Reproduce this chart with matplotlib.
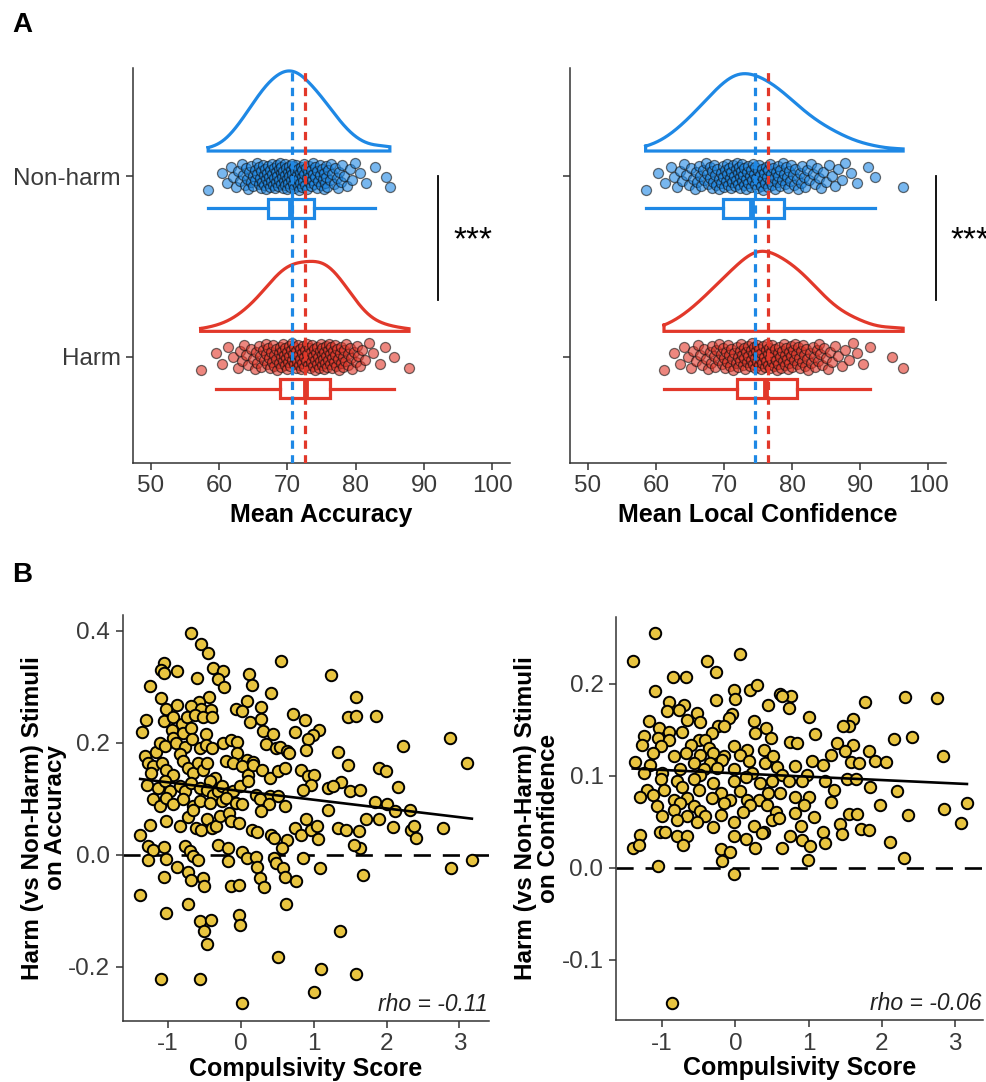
import numpy as np
import matplotlib
matplotlib.use('Agg')
import matplotlib.pyplot as plt

plt.rcParams['font.family'] = ['Liberation Sans', 'DejaVu Sans']
plt.rcParams['axes.unicode_minus'] = False

BLUE = '#1E88E5'
RED = '#E2382A'
GOLD = '#E8C440'
TXT = '#3a3a3a'

# ---- panel A data: per-participant means ----
nonharm_acc = [58.4, 60.4, 61.2, 61.8, 62.1, 62.5, 62.8, 63.0, 63.3, 63.5, 63.8, 63.9,
               64.1, 64.2, 64.4, 64.6, 64.7, 64.9, 65.0, 65.2, 65.3, 65.5, 65.6, 65.8, 65.9, 66.0,
               66.1, 66.2, 66.3, 66.4, 66.5, 66.6, 66.7, 66.8, 66.9, 67.0, 67.1, 67.2, 67.3, 67.4,
               67.5, 67.6, 67.7, 67.8, 67.9, 68.0,
               68.1, 68.2, 68.3, 68.4, 68.5, 68.5, 68.6, 68.7, 68.8, 68.9, 69.0, 69.1, 69.1, 69.2,
               69.3, 69.4, 69.5, 69.6, 69.7, 69.7, 69.8, 69.9, 70.0,
               70.1, 70.1, 70.2, 70.3, 70.4, 70.5, 70.5, 70.6, 70.7, 70.8, 70.9, 71.0, 71.0, 71.1,
               71.2, 71.3, 71.4, 71.5, 71.5, 71.6, 71.7, 71.8, 71.9, 72.0,
               72.1, 72.2, 72.2, 72.3, 72.4, 72.5, 72.6, 72.7, 72.8, 72.9, 73.0, 73.1, 73.2, 73.3,
               73.4, 73.5, 73.6, 73.7, 73.8, 73.9, 74.0,
               74.1, 74.3, 74.4, 74.5, 74.7, 74.8, 74.9, 75.0, 75.2, 75.3, 75.4, 75.5, 75.6, 75.7,
               75.8, 76.0, 76.2, 76.4, 76.6, 76.8, 77.0, 77.2, 77.4, 77.6, 77.8, 78.0,
               78.3, 78.7, 79.1, 79.5, 79.9, 80.6, 81.5, 82.8, 84.5, 85.0]

harm_acc = [57.3, 59.5, 60.4, 61.3, 62.0, 62.7, 63.1, 63.4, 63.7, 64.0, 64.3, 64.6, 64.9,
            65.2, 65.4, 65.6, 65.8, 66.0, 66.2, 66.4, 66.6, 66.8, 66.9,
            67.0, 67.2, 67.3, 67.4, 67.6, 67.7, 67.9, 68.0, 68.1, 68.3, 68.4, 68.5, 68.7, 68.8, 68.9,
            69.0, 69.1, 69.2, 69.3, 69.4, 69.5, 69.6, 69.7, 69.8, 69.9, 70.0, 70.1, 70.2, 70.3,
            70.4, 70.5, 70.6, 70.7, 70.8, 70.9,
            71.0, 71.1, 71.2, 71.3, 71.4, 71.5, 71.6, 71.7, 71.8, 71.9, 72.0, 72.1, 72.2, 72.3,
            72.4, 72.5, 72.6, 72.7, 72.8, 72.9, 73.0,
            73.1, 73.2, 73.3, 73.4, 73.5, 73.6, 73.7, 73.8, 73.9, 74.0, 74.1, 74.2, 74.3, 74.4,
            74.5, 74.6, 74.7, 74.8, 74.9, 75.0, 75.0,
            75.1, 75.2, 75.3, 75.4, 75.5, 75.6, 75.7, 75.8, 75.9, 76.0, 76.1, 76.2, 76.3, 76.4,
            76.5, 76.6, 76.7, 76.8, 76.9,
            77.0, 77.1, 77.3, 77.4, 77.5, 77.7, 77.8, 77.9, 78.1, 78.2, 78.3, 78.5, 78.6, 78.8, 78.9,
            79.1, 79.3, 79.5, 79.7, 80.0, 80.2, 80.4, 80.6, 80.9,
            81.4, 82.0, 82.6, 83.5, 84.3, 85.6, 87.8]

nonharm_conf = [58.5, 60.3, 61.4, 62.2, 62.7, 63.1, 63.5, 63.9,
                64.2, 64.5, 64.8, 65.1, 65.4, 65.7, 65.9,
                66.1, 66.3, 66.5, 66.7, 66.9, 67.1, 67.3, 67.5, 67.7, 67.9,
                68.0, 68.2, 68.3, 68.4, 68.6, 68.7, 68.9, 69.0, 69.2, 69.3, 69.5, 69.6, 69.8, 69.9,
                70.0, 70.1, 70.3, 70.4, 70.5, 70.6, 70.8, 70.9, 71.0, 71.1, 71.2, 71.4, 71.5, 71.6,
                71.7, 71.8, 71.9,
                72.0, 72.1, 72.2, 72.3, 72.4, 72.5, 72.6, 72.7, 72.8, 72.9, 73.0, 73.2, 73.3, 73.4,
                73.5, 73.6, 73.8, 73.9,
                74.0, 74.1, 74.2, 74.4, 74.5, 74.6, 74.7, 74.8, 75.0, 75.1, 75.2, 75.3, 75.4, 75.6,
                75.7, 75.8, 75.9,
                76.0, 76.1, 76.3, 76.4, 76.5, 76.7, 76.8, 76.9, 77.1, 77.2, 77.3, 77.5, 77.6, 77.8, 77.9,
                78.0, 78.2, 78.3, 78.5, 78.6, 78.8, 78.9, 79.1, 79.2, 79.4, 79.5, 79.7, 79.9,
                80.1, 80.3, 80.5, 80.7, 80.9, 81.1, 81.3, 81.5, 81.7, 81.9,
                82.2, 82.5, 82.8, 83.1, 83.4, 83.6, 83.9, 84.2, 84.6, 85.0, 85.4, 85.8,
                86.3, 86.8, 87.3, 87.8, 88.6, 89.5, 91.2, 92.2, 96.3]

harm_conf = [61.2, 62.6, 63.5, 64.2, 64.7, 65.1, 65.5, 65.9,
             66.2, 66.5, 66.8, 67.1, 67.4, 67.7, 67.9,
             68.1, 68.3, 68.5, 68.7, 68.9, 69.1, 69.3, 69.5, 69.7, 69.9,
             70.0, 70.2, 70.3, 70.5, 70.6, 70.8, 70.9, 71.1, 71.2, 71.4, 71.5, 71.7, 71.9,
             72.0, 72.1, 72.3, 72.4, 72.5, 72.6, 72.8, 72.9, 73.0, 73.1, 73.3, 73.4, 73.5, 73.6,
             73.8, 73.9,
             74.0, 74.1, 74.2, 74.3, 74.4, 74.5, 74.6, 74.7, 74.8, 74.9, 75.0, 75.1, 75.2, 75.3,
             75.4, 75.5, 75.6, 75.7, 75.9,
             76.0, 76.1, 76.2, 76.3, 76.4, 76.5, 76.6, 76.7, 76.8, 76.9, 77.0, 77.1, 77.2, 77.4,
             77.5, 77.6, 77.8, 77.9,
             78.0, 78.1, 78.3, 78.4, 78.5, 78.6, 78.8, 78.9, 79.0, 79.1, 79.3, 79.4, 79.5, 79.6,
             79.8, 79.9,
             80.0, 80.2, 80.3, 80.4, 80.6, 80.7, 80.9, 81.0, 81.1, 81.3, 81.4, 81.6, 81.7, 81.9,
             82.0, 82.2, 82.4, 82.6, 82.8, 83.0, 83.2, 83.4, 83.6, 83.8, 83.9,
             84.1, 84.4, 84.7, 85.0, 85.3, 85.6, 85.9, 86.3, 86.8, 87.3, 87.8,
             88.3, 88.9, 89.6, 90.4, 91.5, 94.6, 96.3]

# ---- panel B data: (compulsivity score, harm - non-harm effect) ----
acc_points = [
    (-0.68, 0.395), (-0.54, 0.376), (-0.45, 0.36), (-1.06, 0.343), (-1.10, 0.33), (-1.06, 0.325),
    (-0.87, 0.328), (-0.60, 0.315), (-0.38, 0.333), (-0.24, 0.328), (-0.31, 0.314), (-0.23, 0.30),
    (0.11, 0.322), (0.16, 0.303), (0.55, 0.346), (1.24, 0.321),
    (-1.24, 0.301), (-1.10, 0.28), (-0.43, 0.282), (-0.57, 0.272), (-0.88, 0.267), (-1.02, 0.26),
    (-0.68, 0.266), (0.08, 0.275), (0.42, 0.288), (0.28, 0.263), (-0.06, 0.26), (0.02, 0.257),
    (1.58, 0.282), (-0.55, 0.26), (-0.41, 0.258),
    (-1.30, 0.24), (-1.06, 0.238), (-0.93, 0.245), (-0.81, 0.233), (-0.74, 0.245), (-0.63, 0.25),
    (-0.52, 0.245), (-0.39, 0.245), (0.12, 0.237), (0.28, 0.243), (0.72, 0.252), (0.88, 0.24),
    (1.47, 0.245), (1.58, 0.247), (1.85, 0.248),
    (-1.36, 0.219), (-0.94, 0.223), (-0.93, 0.209), (-0.79, 0.218), (-0.68, 0.227), (-0.48, 0.215),
    (0.31, 0.22), (0.44, 0.215), (0.74, 0.219), (1.07, 0.222), (0.99, 0.213), (0.92, 0.206),
    (2.87, 0.209),
    (-1.32, 0.177), (-1.16, 0.183), (-1.11, 0.199), (-1.04, 0.194), (-0.89, 0.199), (-0.77, 0.193),
    (-0.67, 0.206), (-0.56, 0.191), (-0.48, 0.196), (-0.40, 0.19), (-0.25, 0.20), (-0.14, 0.204),
    (-0.05, 0.202), (-0.05, 0.181), (0.08, 0.169), (0.17, 0.165), (0.35, 0.197), (0.48, 0.191),
    (0.54, 0.193), (0.63, 0.185), (0.66, 0.181), (0.90, 0.187), (1.33, 0.183), (2.22, 0.194),
    (3.11, 0.164),
    (-1.27, 0.164), (-1.20, 0.158), (-1.23, 0.146), (-1.08, 0.164), (-1.02, 0.151), (-0.93, 0.143),
    (-0.84, 0.179), (-0.79, 0.167), (-0.72, 0.155), (-0.66, 0.146), (-0.58, 0.164), (-0.52, 0.152),
    (-0.47, 0.164), (-0.35, 0.137), (-0.42, 0.131), (-0.20, 0.167), (-0.11, 0.164), (0.01, 0.158),
    (0.10, 0.143), (0.17, 0.161), (0.29, 0.152), (0.40, 0.137), (0.51, 0.149), (0.60, 0.155),
    (0.83, 0.152), (0.92, 0.14), (1.01, 0.143), (1.47, 0.16), (1.90, 0.155), (1.99, 0.149),
    (1.38, 0.13), (0.96, 0.125), (0.85, 0.116),
    (-1.29, 0.125), (-1.13, 0.119), (-1.04, 0.131), (-0.97, 0.113), (-0.84, 0.122), (-0.77, 0.113),
    (-0.68, 0.128), (-0.56, 0.119), (-0.47, 0.116), (-0.38, 0.107), (-0.31, 0.113), (-0.26, 0.122),
    (-0.17, 0.11), (-0.11, 0.113), (-0.01, 0.122), (0.10, 0.131), (0.21, 0.107), (0.40, 0.104),
    (0.51, 0.104), (0.60, 0.087), (1.20, 0.119), (1.26, 0.122), (1.50, 0.113), (1.63, 0.116),
    (2.16, 0.121),
    (-1.20, 0.099), (-1.11, 0.087), (-1.02, 0.101), (-0.93, 0.09), (-0.79, 0.099), (-0.65, 0.087),
    (-0.56, 0.096), (-0.42, 0.093), (-0.26, 0.096), (-0.20, 0.101), (-0.06, 0.093), (0.01, 0.091),
    (0.26, 0.099), (0.39, 0.09), (1.20, 0.079), (1.84, 0.094), (2.00, 0.09), (2.11, 0.078),
    (2.32, 0.079),
    (-1.25, 0.054), (-1.02, 0.06), (-0.84, 0.051), (-0.72, 0.067), (-0.66, 0.079), (-0.61, 0.048),
    (-0.54, 0.045), (-0.47, 0.063), (-0.40, 0.048), (-0.34, 0.051), (-0.29, 0.07), (-0.16, 0.075),
    (-0.13, 0.06), (-0.02, 0.057), (0.15, 0.045), (0.22, 0.041), (0.28, 0.078), (0.42, 0.036),
    (0.45, 0.03), (0.63, 0.027), (0.74, 0.048), (0.83, 0.035), (0.90, 0.063), (0.97, 0.045),
    (1.04, 0.051), (1.06, 0.028), (1.33, 0.048), (1.45, 0.045), (1.62, 0.042), (1.72, 0.063),
    (1.90, 0.064), (2.09, 0.049), (2.33, 0.044), (2.38, 0.051), (2.41, 0.03), (2.77, 0.047),
    (-1.38, 0.036), (-1.27, 0.015), (-1.20, 0.009), (-1.06, 0.014), (-1.27, -0.009), (-1.02, -0.008),
    (-1.06, -0.04), (-0.88, -0.021), (-0.77, 0.015), (-0.70, 0.006), (-0.65, -0.003), (-0.58, -0.01),
    (-0.72, -0.03), (-0.68, -0.045), (-0.52, -0.042), (-0.51, -0.056), (-0.31, 0.018), (-0.17, 0.012),
    (-0.18, -0.011), (0.01, 0.005), (0.08, -0.006), (0.21, -0.004), (0.22, -0.021), (0.26, -0.042),
    (0.32, -0.057), (-0.14, -0.055), (-0.03, -0.054), (0.45, -0.006), (0.48, -0.015), (0.56, 0.012),
    (0.58, -0.024), (0.60, -0.039), (0.76, -0.047), (0.85, -0.006), (1.08, -0.024), (1.68, -0.037),
    (1.63, 0.012), (1.56, 0.018), (2.89, -0.023), (3.17, -0.01),
    (-1.38, -0.072), (-0.72, -0.088), (0.62, -0.087), (-1.03, -0.104), (-0.02, -0.107),
    (-0.01, -0.125), (-0.56, -0.119), (-0.41, -0.116), (-0.51, -0.136), (-0.46, -0.159),
    (1.36, -0.136), (0.51, -0.182), (1.10, -0.203), (-1.10, -0.221), (-0.56, -0.222),
    (1.58, -0.212), (1.01, -0.245), (0.01, -0.264),
]

conf_points = [
    (-1.10, 0.255), (-1.39, 0.225), (0.07, 0.233), (-0.38, 0.225), (-0.27, 0.213), (-0.85, 0.208),
    (-0.67, 0.207), (-1.10, 0.192), (-0.02, 0.193), (0.20, 0.193), (0.29, 0.199), (-0.27, 0.182),
    (-0.01, 0.184), (0.61, 0.189), (0.76, 0.187), (0.64, 0.187), (2.32, 0.186), (2.75, 0.185),
    (1.77, 0.18), (-0.91, 0.18), (-0.70, 0.177), (0.45, 0.177), (0.73, 0.174), (-0.77, 0.172),
    (-0.93, 0.17), (-0.52, 0.168), (-0.05, 0.167), (-0.09, 0.163), (1.00, 0.164), (1.61, 0.162),
    (1.55, 0.154), (1.47, 0.154), (-1.18, 0.16), (-0.66, 0.161), (-0.48, 0.159), (0.26, 0.16),
    (-0.24, 0.154), (-0.15, 0.154), (-1.04, 0.152), (0.42, 0.152), (-1.25, 0.143), (-0.91, 0.148),
    (-0.73, 0.148), (-0.32, 0.147), (0.27, 0.147), (1.09, 0.145), (0.48, 0.141), (2.16, 0.14),
    (2.41, 0.142), (-1.06, 0.141), (-0.91, 0.139), (-0.50, 0.139), (-0.41, 0.139), (0.75, 0.137),
    (0.84, 0.136), (1.39, 0.136), (1.61, 0.133), (-1.28, 0.133), (-1.02, 0.132), (-0.61, 0.134),
    (-0.36, 0.13), (-0.02, 0.132), (0.16, 0.128), (0.39, 0.128), (-1.12, 0.125), (-0.68, 0.125),
    (-0.48, 0.123), (-0.30, 0.125), (-0.16, 0.121), (0.07, 0.123), (1.82, 0.127), (1.50, 0.127),
    (1.30, 0.123), (2.84, 0.121), (-1.37, 0.115), (-0.84, 0.121), (-0.57, 0.114), (-0.34, 0.114),
    (-0.18, 0.117), (0.18, 0.116), (0.41, 0.114), (0.52, 0.121), (1.05, 0.116), (1.58, 0.115),
    (1.69, 0.114), (1.90, 0.116), (2.05, 0.115), (1.19, 0.112), (0.82, 0.111), (-1.16, 0.112),
    (-1.25, 0.103), (-1.00, 0.103), (-0.75, 0.107), (-0.43, 0.107), (-0.25, 0.108), (-0.02, 0.107),
    (0.23, 0.103), (0.57, 0.110), (0.64, 0.101), (0.98, 0.101), (-0.48, 0.101), (-1.02, 0.096),
    (-0.80, 0.094), (-0.57, 0.096), (-0.30, 0.092), (-0.02, 0.094), (0.14, 0.099), (0.34, 0.092),
    (0.50, 0.094), (0.73, 0.094), (0.91, 0.094), (1.23, 0.094), (1.52, 0.096), (1.65, 0.096),
    (1.84, 0.088), (-1.20, 0.085), (-0.98, 0.085), (-0.73, 0.088), (-0.50, 0.085), (-0.20, 0.081),
    (0.07, 0.083), (0.45, 0.081), (0.61, 0.081), (0.82, 0.077), (1.34, 0.085), (2.21, 0.083),
    (-1.30, 0.077), (-1.12, 0.079), (-0.84, 0.074), (-0.66, 0.076), (-0.32, 0.076), (-0.07, 0.074),
    (0.16, 0.074), (0.32, 0.074), (1.00, 0.077), (-1.07, 0.067), (-0.75, 0.07), (-0.57, 0.067),
    (-0.16, 0.07), (0.20, 0.068), (0.43, 0.068), (0.93, 0.068), (1.30, 0.071), (1.98, 0.068),
    (3.16, 0.07), (-0.84, 0.063), (-0.48, 0.062), (0.11, 0.061), (0.55, 0.061), (0.82, 0.059),
    (1.55, 0.058), (1.66, 0.058), (2.35, 0.057), (2.85, 0.064), (-1.00, 0.056), (-0.66, 0.056),
    (-0.41, 0.056), (-0.20, 0.057), (-0.02, 0.05), (0.50, 0.052), (0.59, 0.054), (1.07, 0.055),
    (3.08, 0.049), (-0.80, 0.052), (-0.52, 0.05), (-0.30, 0.044), (0.25, 0.045), (0.39, 0.039),
    (0.89, 0.045), (1.43, 0.048), (1.46, 0.037), (1.71, 0.042), (1.82, 0.041), (-1.30, 0.036),
    (-1.03, 0.039), (-0.96, 0.039), (-0.80, 0.035), (-0.66, 0.035), (-0.02, 0.035), (0.15, 0.031),
    (0.36, 0.038), (0.75, 0.035), (0.91, 0.030), (1.19, 0.039), (1.23, 0.027), (2.11, 0.028),
    (-0.72, 0.025), (0.27, 0.022), (0.63, 0.022), (1.02, 0.024), (-1.40, 0.021), (-1.31, 0.025),
    (-0.20, 0.02), (-0.07, 0.017), (-0.18, 0.007), (0.99, 0.008), (2.30, 0.011), (-1.05, 0.002),
    (-0.02, -0.007), (-0.86, -0.147),
]


def kde(vals, grid):
    # gaussian kernel, R's nrd0 bandwidth
    vals = np.asarray(vals)
    n = len(vals)
    q75, q25 = np.percentile(vals, [75, 25])
    bw = 0.9 * min(vals.std(ddof=1), (q75 - q25) / 1.34) * n ** -0.2
    z = (grid[:, None] - vals[None, :]) / bw
    return np.exp(-0.5 * z ** 2).sum(axis=1) / (n * bw * np.sqrt(2 * np.pi))


def raincloud(ax, groups):
    curves = []
    for vals, pos, col in groups:
        grid = np.linspace(min(vals), max(vals), 300)
        curves.append((grid, kde(vals, grid)))
    dmax = max(d.max() for g, d in curves)

    for (vals, pos, col), (grid, d) in zip(groups, curves):
        vals = np.asarray(vals)
        base = pos + 0.14
        top = base + d / dmax * 0.444
        ax.plot(np.r_[grid, grid[::-1], grid[0]],
                np.r_[top, np.full(len(grid), base), top[0]],
                color=col, lw=2.3, solid_joinstyle='miter', zorder=2)
        jit = ((np.arange(len(vals)) * 0.618034) % 1 - 0.5) * 0.15
        ax.scatter(vals, pos + jit, s=52, facecolor=col, edgecolor='#111111',
                   linewidth=0.9, alpha=0.6, zorder=3)
        ax.boxplot(vals, positions=[pos - 0.178], orientation='horizontal', widths=0.106,
                   showfliers=False, showcaps=False, patch_artist=True, manage_ticks=False,
                   boxprops=dict(facecolor='none', edgecolor=col, linewidth=2.3),
                   whiskerprops=dict(color=col, linewidth=2.3),
                   medianprops=dict(color=col, linewidth=4.2))
    for vals, pos, col in groups:
        ax.axvline(np.mean(vals), color=col, lw=2.3, ls=(0, (2.6, 2.0)), zorder=5)


def style(ax):
    for s in ['top', 'right']:
        ax.spines[s].set_visible(False)
    for s in ['left', 'bottom']:
        ax.spines[s].set_linewidth(1.1)
        ax.spines[s].set_color('#333333')
    ax.tick_params(length=5, width=1.1, color='#333333', labelsize=17.5, labelcolor=TXT, pad=4)


fig = plt.figure(figsize=(9.87, 10.82), dpi=100)

# ---- panel A ----
pa = [fig.add_axes([0.1348, 0.5721, 0.382, 0.365]),
      fig.add_axes([0.5775, 0.5721, 0.381, 0.365])]
a_data = [(nonharm_acc, harm_acc, 'Mean Accuracy', 92.0, 94.3),
          (nonharm_conf, harm_conf, 'Mean Local Confidence', 101.1, 103.2)]
for k, (ax, (nh, h, lab, barx, starx)) in enumerate(zip(pa, a_data)):
    raincloud(ax, [(nh, 2, BLUE), (h, 1, RED)])
    ax.set_xlim(47.4, 102.6)
    ax.set_ylim(0.41, 2.60)
    ax.set_xticks([50, 60, 70, 80, 90, 100])
    ax.set_yticks([1, 2])
    ax.set_yticklabels(['Harm', 'Non-harm'] if k == 0 else ['', ''])
    ax.set_xlabel(lab, fontsize=18, fontweight='bold', labelpad=4)
    style(ax)
    ax.plot([barx, barx], [1.315, 2.0], color='black', lw=1.3, clip_on=False)
    ax.text(starx, 1.64, '***', fontsize=24, ha='left', va='center', clip_on=False)

fig.text(0.012, 0.970, 'A', fontsize=20, fontweight='bold')
fig.text(0.012, 0.462, 'B', fontsize=20, fontweight='bold')

# ---- panel B ----
pb = [fig.add_axes([0.1243, 0.0567, 0.3715, 0.375]),
      fig.add_axes([0.624, 0.0573, 0.372, 0.3727])]
b_data = [(acc_points, 'on Accuracy', (-1.62, 3.41), (-0.296, 0.428), [-0.2, 0.0, 0.2, 0.4], 'rho = -0.11'),
          (conf_points, 'on Confidence', (-1.63, 3.38), (-0.1656, 0.273), [-0.1, 0.0, 0.1, 0.2], 'rho = -0.06')]
for ax, (pts, lab2, xl, yl, yt, rho) in zip(pb, b_data):
    x, y = np.array(pts).T
    ax.axhline(0, color='black', lw=1.9, ls=(0, (6.5, 4.5)), zorder=1)
    ax.scatter(x, y, s=68, facecolor=GOLD, edgecolor='black', linewidth=1.4, zorder=3)
    slope, icpt = np.polyfit(x, y, 1)
    xs = np.array([x.min(), x.max()])
    ax.plot(xs, icpt + slope * xs, color='black', lw=1.9, zorder=4)
    ax.set_xlim(*xl)
    ax.set_ylim(*yl)
    ax.set_xticks([-1, 0, 1, 2, 3])
    ax.set_yticks(yt)
    ax.set_yticklabels([f'{v:.1f}' for v in yt])
    ax.set_xlabel('Compulsivity Score', fontsize=18, fontweight='bold', labelpad=1)
    ax.set_ylabel('Harm (vs Non-Harm) Stimuli\n' + lab2, fontsize=17.5, fontweight='bold',
                  linespacing=1.0)
    ax.yaxis.set_label_coords(-0.152, 0.5)
    ax.text(0.995, 0.012, rho, transform=ax.transAxes, ha='right', va='bottom',
            fontsize=16.5, style='italic', color='#222222')
    style(ax)

fig.savefig('out.png', dpi=100)
